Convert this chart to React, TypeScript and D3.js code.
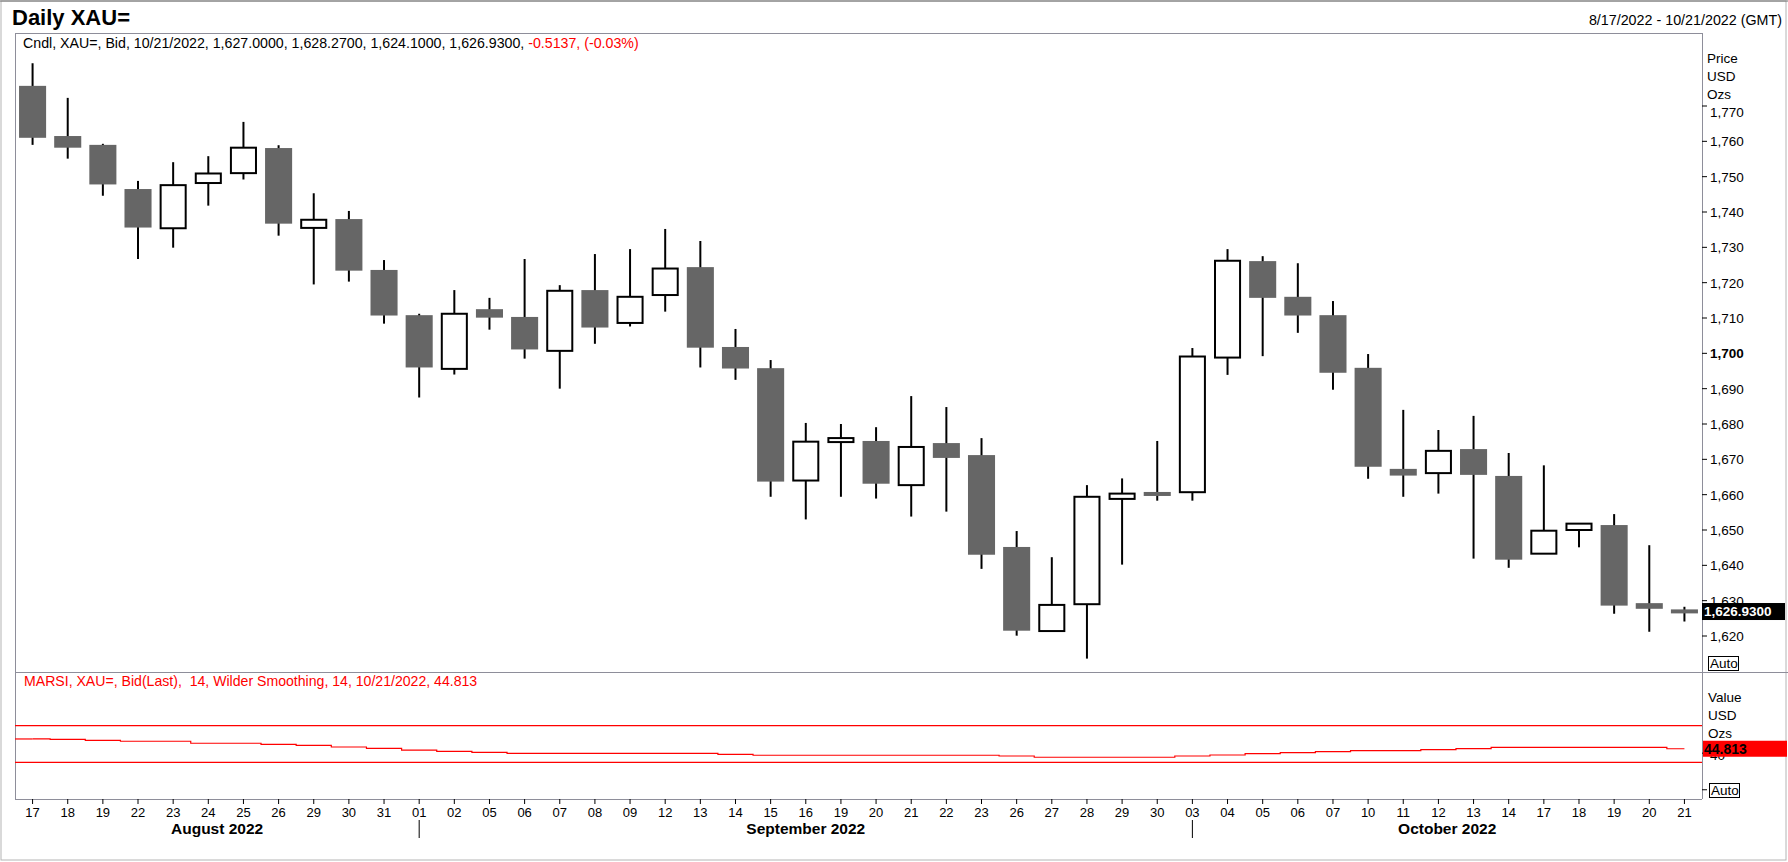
import React from 'react'
import * as d3 from 'd3'

const days = ['17','18','19','22','23','24','25','26','29','30','31','01','02','05','06','07','08','09','12','13','14','15','16','19','20','21','22','23','26','27','28','29','30','03','04','05','06','07','10','11','12','13','14','17','18','19','20','21']
const opens = [1775.7,1761.5,1759.0,1746.5,1735.4,1748.2,1751.0,1758.1,1735.5,1738.0,1723.6,1710.8,1695.6,1712.5,1710.3,1700.7,1717.9,1708.6,1716.5,1724.4,1701.8,1695.8,1664.0,1674.9,1675.2,1662.7,1674.6,1671.2,1645.2,1621.4,1629.0,1658.8,1660.7,1660.7,1698.8,1726.1,1716.0,1710.8,1695.9,1667.3,1666.1,1672.9,1665.3,1643.3,1650.0,1651.4,1629.3,1627.0]
const highs = [1782.1,1772.3,1759.3,1748.8,1754.1,1755.8,1765.5,1758.9,1745.3,1740.3,1726.4,1711.2,1717.9,1715.7,1726.7,1719.3,1728.1,1729.5,1735.2,1731.8,1706.9,1698.1,1680.3,1680.0,1679.1,1687.9,1684.8,1676.0,1649.7,1642.3,1662.7,1664.6,1675.2,1701.5,1729.5,1727.5,1725.5,1714.8,1699.8,1684.0,1678.3,1682.3,1671.8,1668.3,1651.9,1654.5,1645.7,1628.27]
const lows = [1759.0,1755.1,1744.6,1726.7,1729.9,1741.8,1749.2,1733.3,1719.5,1720.3,1708.4,1687.5,1694.0,1706.7,1698.5,1690.0,1702.7,1707.6,1711.8,1696.0,1692.5,1659.4,1653.0,1659.4,1658.9,1653.8,1655.2,1639.0,1620.1,1621.4,1613.6,1640.2,1658.3,1658.3,1693.9,1699.2,1705.8,1689.7,1664.5,1659.4,1660.3,1641.9,1639.3,1643.3,1645.1,1626.3,1621.2,1624.1]
const closes = [1761.0,1758.2,1747.8,1735.6,1747.6,1750.9,1758.2,1736.7,1737.8,1723.4,1710.7,1696.0,1711.2,1710.1,1701.1,1717.7,1707.3,1716.0,1724.0,1701.6,1695.7,1663.7,1675.0,1676.0,1663.1,1673.5,1670.4,1643.0,1621.5,1628.8,1659.4,1660.3,1659.7,1699.1,1726.2,1715.7,1710.7,1694.5,1667.9,1665.4,1672.4,1665.6,1641.6,1649.8,1651.8,1628.6,1627.7,1626.93]
const rsi = [55.5,55.0,54.0,53.0,53.0,50.8,50.8,49.7,48.6,46.7,45.3,43.4,42.0,40.9,39.8,39.8,39.8,39.8,39.8,39.8,38.7,37.7,37.7,37.7,37.7,37.7,37.7,37.7,36.9,35.5,35.5,35.5,35.5,36.9,38.0,39.4,40.5,41.6,42.7,42.7,43.8,44.9,46.4,46.4,46.4,46.4,46.4,44.813]
const months = [
  { label: 'August 2022', start: 0 },
  { label: 'September 2022', start: 11 },
  { label: 'October 2022', start: 33 },
]
const priceTicks = [1620,1630,1640,1650,1660,1670,1680,1690,1700,1710,1720,1730,1740,1750,1760,1770]
const rsiTicks = [0, 40]
const rsiLevels = [30, 70]

const FONT = "Arial, 'Liberation Sans', sans-serif"
const W = 1788
const H = 862
const left = 15
const right = 1702
const priceTop = 33
const priceBottom = 672
const rsiBottom = 799
const frame = '#8e8e9a'

export default function App() {
  const x = d3.scaleBand<number>().domain(days.map((_, i) => i)).range([left, right]).padding(0)
  const bw = x.bandwidth()
  const cx = (i: number) => (x(i) ?? 0) + bw / 2
  const y = d3.scaleLinear().domain([1620, 1770]).range([636, 106])
  const yr = d3.scaleLinear().domain([30, 70]).range([762.3, 725.7])

  const rsiLine = d3.line<number>().x((_, i) => cx(i)).y(d => yr(d)).curve(d3.curveStep)(rsi) ?? ''
  const bodyW = bw * 0.77
  const last = closes[closes.length - 1]
  const lastRsi = rsi[rsi.length - 1]

  const monthEdges = months.map((m, k) => {
    const a = k === 0 ? left : cx(m.start)
    const b = k === months.length - 1 ? right : cx(months[k + 1].start)
    return { ...m, a, b }
  })

  return (
    <svg width={W} height={H} style={{ position: 'absolute', left: 0, top: 0, background: '#fff' }} fontFamily={FONT}>
      <rect x={0} y={0} width={W} height={H} fill="#fff" />
      <rect x={1} y={1} width={W - 3} height={H - 3} fill="none" stroke="#b4b4b4" />
      <line x1={0} x2={W} y1={1} y2={1} stroke="#6e6e6e" />

      <text x={12} y={25} fontSize={22} fontWeight="bold" textLength={118} lengthAdjust="spacingAndGlyphs">Daily XAU=</text>
      <text x={1782} y={25} fontSize={14.3} textAnchor="end">8/17/2022 - 10/21/2022 (GMT)</text>

      {/* panel frames */}
      <line x1={left} x2={right} y1={priceTop + 0.5} y2={priceTop + 0.5} stroke={frame} />
      <line x1={left} x2={W} y1={priceBottom + 0.5} y2={priceBottom + 0.5} stroke={frame} />
      <line x1={left} x2={right} y1={rsiBottom + 0.5} y2={rsiBottom + 0.5} stroke={frame} />
      <line x1={left + 0.5} x2={left + 0.5} y1={priceTop} y2={rsiBottom} stroke={frame} />
      <line x1={right + 0.5} x2={right + 0.5} y1={priceTop} y2={rsiBottom} stroke={frame} />

      <text x={23} y={48} fontSize={14.2}>
        Cndl, XAU=, Bid, 10/21/2022, 1,627.0000, 1,628.2700, 1,624.1000, 1,626.9300, <tspan fill="#ff0000">-0.5137, (-0.03%)</tspan>
      </text>

      {/* candles */}
      {days.map((_, i) => {
        const o = opens[i], c = closes[i]
        const up = c > o
        const yo = y(o), yc = y(c)
        const h = Math.max(Math.abs(yo - yc), 4)
        const mid = (yo + yc) / 2
        return (
          <g key={i}>
            <line x1={cx(i)} x2={cx(i)} y1={y(highs[i])} y2={y(lows[i])} stroke="#000" strokeWidth={2} />
            {up ? (
              <rect x={cx(i) - bodyW / 2 + 1} y={mid - h / 2} width={bodyW - 2} height={h} fill="#fff" stroke="#000" strokeWidth={2} />
            ) : (
              <rect x={cx(i) - bodyW / 2} y={mid - h / 2} width={bodyW} height={h} fill="#666666" />
            )}
          </g>
        )
      })}

      {/* price axis */}
      <text x={1707} y={63} fontSize={13.5}>Price</text>
      <text x={1707} y={81} fontSize={13.5}>USD</text>
      <text x={1707} y={99} fontSize={13.5}>Ozs</text>
      {priceTicks.map(t => (
        <g key={t}>
          <line x1={right} x2={right + 5} y1={y(t)} y2={y(t)} stroke="#000" />
          <text x={1710} y={Math.max(y(t), 112)} dy="0.36em" fontSize={13.5} fontWeight={t === 1700 ? 'bold' : 'normal'}>
            {d3.format(',')(t)}
          </text>
        </g>
      ))}
      <rect x={right} y={y(last) - 8.5} width={83} height={17} fill="#000" />
      <text x={right + 2} y={y(last)} dy="0.36em" fontSize={13.5} fontWeight="bold" fill="#fff">{d3.format(',.4f')(last)}</text>
      <rect x={1708.5} y={656.5} width={30} height={14} fill="#fff" stroke="#000" />
      <text x={1710} y={668} fontSize={13.5}>Auto</text>

      {/* RSI panel */}
      <text x={24} y={686} fontSize={14.1} fill="#ff0000" style={{ whiteSpace: 'pre' }}>MARSI, XAU=, Bid(Last),  14, Wilder Smoothing, 14, 10/21/2022, 44.813</text>
      {rsiLevels.map(l => (
        <line key={l} x1={left} x2={right} y1={yr(l)} y2={yr(l)} stroke="#ff0000" strokeWidth={1.2} />
      ))}
      <line x1={left} x2={cx(0)} y1={yr(rsi[0])} y2={yr(rsi[0])} stroke="#ff0000" strokeWidth={1.2} />
      <path d={rsiLine} fill="none" stroke="#ff0000" strokeWidth={1.2} />
      <text x={1708} y={702} fontSize={13.5}>Value</text>
      <text x={1708} y={720} fontSize={13.5}>USD</text>
      <text x={1708} y={738} fontSize={13.5}>Ozs</text>
      {rsiTicks.map(t => (
        <g key={t}>
          <line x1={right} x2={right + 5} y1={yr(t)} y2={yr(t)} stroke="#000" />
          {t !== 0 && <text x={1710} y={yr(t) + 2} dy="0.36em" fontSize={13.5}>{t}</text>}
        </g>
      ))}
      <rect x={right + 1} y={yr(lastRsi) - 8} width={84} height={16} fill="#ff0000" />
      <text x={right + 2} y={yr(lastRsi)} dy="0.36em" fontSize={14} fontWeight="bold" fill="#000">{d3.format('.3f')(lastRsi)}</text>
      <rect x={1709.5} y={783.5} width={30} height={14} fill="#fff" stroke="#000" />
      <text x={1711} y={795} fontSize={13.5}>Auto</text>

      {/* x axis */}
      {days.map((d, i) => (
        <g key={i}>
          <line x1={cx(i)} x2={cx(i)} y1={rsiBottom} y2={rsiBottom + 5} stroke="#000" />
          <text x={cx(i)} y={817} fontSize={13} textAnchor="middle">{d}</text>
        </g>
      ))}
      {monthEdges.map((m, k) => (
        <g key={m.label}>
          {k > 0 && <line x1={m.a} x2={m.a} y1={820} y2={838} stroke="#000" />}
          <text x={(m.a + m.b) / 2} y={834} fontSize={15.5} fontWeight="bold" textAnchor="middle">{m.label}</text>
        </g>
      ))}
    </svg>
  )
}
